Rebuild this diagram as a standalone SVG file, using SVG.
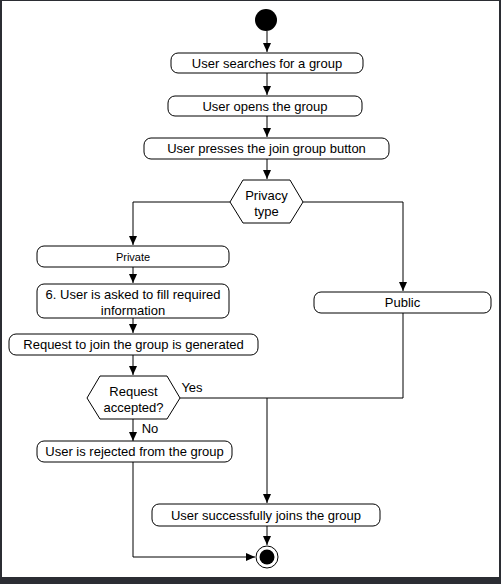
<svg xmlns="http://www.w3.org/2000/svg" width="501" height="584" viewBox="0 0 501 584">
<defs>
<marker id="ah" viewBox="0 0 9 8" refX="9" refY="4" markerWidth="9" markerHeight="8" markerUnits="userSpaceOnUse" orient="auto"><path d="M0,0 L9,4 L0,8 z" fill="#000"/></marker>
<style>
.n{fill:#fff;stroke:#000;stroke-width:1}
.t{font-family:"Liberation Sans",Arial,sans-serif;font-size:13px;fill:#000;text-anchor:middle;dominant-baseline:central}
.s{font-size:11px}
.c{fill:none;stroke:#000;stroke-width:1}
.ca{fill:none;stroke:#000;stroke-width:1;marker-end:url(#ah)}
</style>
</defs>
<rect x="0" y="0" width="501" height="584" fill="#2b2d33"/>
<rect x="2" y="1" width="497" height="576" fill="#fff"/>
<g id="connectors">
<path class="ca" d="M267,31 V52"/>
<path class="ca" d="M267,73 V95"/>
<path class="ca" d="M267,116 V137"/>
<path class="ca" d="M267,159 V179"/>
<path class="ca" d="M230,202 H133 V245"/>
<path class="ca" d="M303,202 H403 V291"/>
<path class="ca" d="M133,267 V283"/>
<path class="ca" d="M133,318 V333"/>
<path class="ca" d="M133,355 V375"/>
<path class="ca" d="M133,419 V441"/>
<path class="c" d="M180,398 H267"/>
<path class="c" d="M403,313 V398 H267"/>
<path class="ca" d="M267,398 V503"/>
<path class="ca" d="M267,526 V545"/>
<path class="ca" d="M133,462 V557 H255"/>
</g>
<g id="start"><circle cx="266" cy="20" r="11" fill="#000"/></g>
<g id="n1"><rect class="n" x="171" y="53" width="192" height="20" rx="7"/><text class="t" x="267" y="63.5">User searches for a group</text></g>
<g id="n2"><rect class="n" x="168" y="96" width="194" height="20" rx="7"/><text class="t" x="265" y="106">User opens the group</text></g>
<g id="n3"><rect class="n" x="144" y="138" width="245" height="21" rx="7"/><text class="t" x="266.5" y="148.5">User presses the join group button</text></g>
<g id="d1"><polygon class="n" points="230,202 243,180 290,180 303,202 290,223 243,223"/><text class="t" x="266.5" y="195">Privacy</text><text class="t" x="266.5" y="211">type</text></g>
<g id="n4"><rect class="n" x="37" y="246" width="192" height="21" rx="7"/><text class="t s" x="133" y="256.5">Private</text></g>
<g id="n5"><rect class="n" x="37" y="284" width="192" height="34" rx="7"/><text class="t" x="133" y="294">6. User is asked to fill required</text><text class="t" x="133" y="310">information</text></g>
<g id="n6"><rect class="n" x="314" y="292" width="177" height="21" rx="7"/><text class="t" x="402.5" y="302.5">Public</text></g>
<g id="n7"><rect class="n" x="9" y="334" width="249" height="21" rx="7"/><text class="t" x="133.5" y="344.5">Request to join the group is generated</text></g>
<g id="d2"><polygon class="n" points="87,398 100,376 167,376 180,398 167,419 100,419"/><text class="t" x="133.5" y="391">Request</text><text class="t" x="133.5" y="407">accepted?</text></g>
<text class="t" x="192" y="387">Yes</text>
<text class="t" x="150" y="428">No</text>
<g id="n8"><rect class="n" x="37" y="441" width="195" height="21" rx="7"/><text class="t" x="134.5" y="451.5">User is rejected from the group</text></g>
<g id="n9"><rect class="n" x="152" y="504" width="228" height="22" rx="7"/><text class="t" x="266" y="515">User successfully joins the group</text></g>
<g id="end"><circle cx="267" cy="557" r="11" fill="#fff" stroke="#000" stroke-width="1"/><circle cx="267" cy="557" r="7.5" fill="#000"/></g>
</svg>
